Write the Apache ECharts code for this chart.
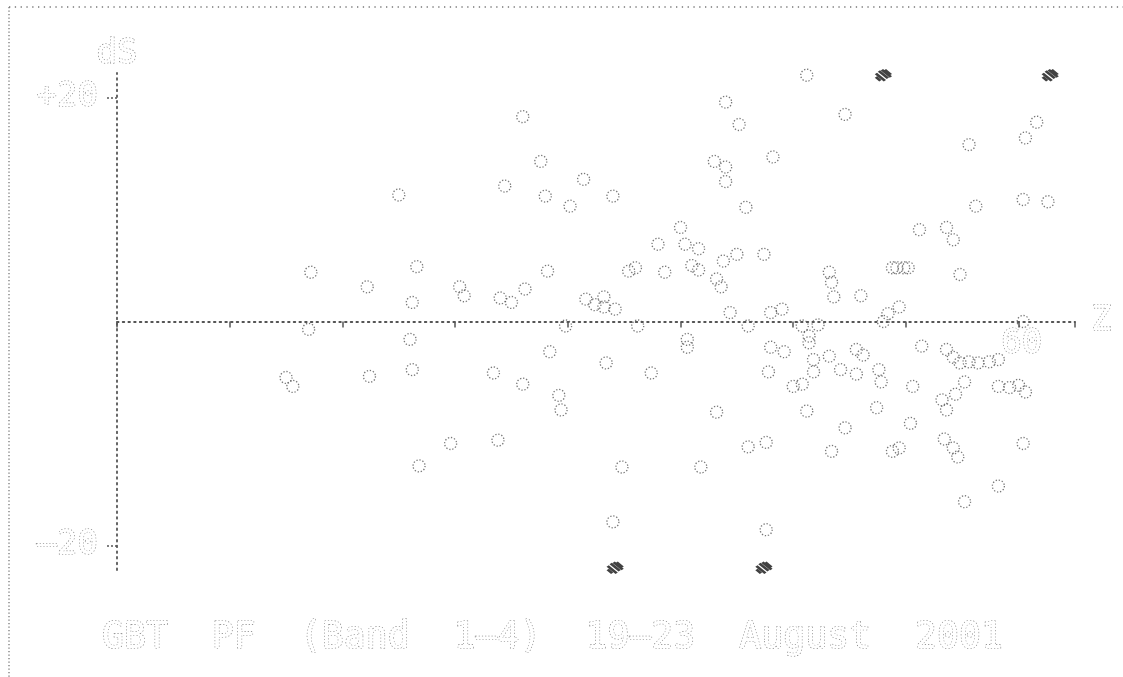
<html><head><meta charset="utf-8"></head><body style="margin:0;background:#fff">
<div id="c" style="width:1123px;height:677px"></div>
<script src="https://cdn.jsdelivr.net/npm/echarts@6/dist/echarts.min.js"></script>
<script>
// Open (normal) points: Z and dS
var zValues = [28.6,28.5,27.5,27.8,31.1,31.2,32.5,33.3,33.1,33.0,33.1,33.4,35.2,35.4,34.8,37.0,37.5,38.1,36.7,36.9,
  38.0,38.0,38.8,37.2,39.0,40.1,40.7,39.1,39.2,39.6,39.7,42.0,40.8,41.6,41.6,42.1,41.2,43.1,41.7,43.7,
  42.7,43.0,42.4,42.0,44.0,44.3,45.0,45.2,45.8,45.8,45.5,45.3,45.3,46.6,46.8,47.0,47.6,46.5,47.0,47.0,
  47.9,49.1,50.6,45.9,46.6,46.9,47.5,48.7,47.2,48.0,49.0,49.5,49.0,49.6,48.9,48.8,48.0,48.8,50.6,50.4,
  50.0,51.7,50.4,50.7,51.1,50.7,51.6,51.7,51.8,50.9,51.6,52.1,50.9,52.3,52.8,53.0,52.3,52.8,53.1,53.7,
  53.8,53.9,54.0,54.2,54.7,54.4,54.6,54.9,55.1,54.4,54.7,55.3,55.6,55.7,55.2,56.8,57.1,57.4,57.8,58.1,
  56.8,57.1,57.4,57.8,58.2,58.7,59.1,56.6,56.8,57.2,57.6,56.7,57.1,57.3,57.6,59.1,59.1,59.6,60.0,60.3,
  60.2,60.2,60.3,60.8,60.2,61.3,39.9];
var dsValues = [4.4,-0.7,-5.0,-5.8,3.1,-4.9,11.3,4.9,1.7,-1.6,-4.3,-12.9,3.1,2.3,-10.9,2.1,1.7,2.9,-4.6,-10.6,
  -5.6,18.3,14.3,12.1,11.2,10.3,12.7,4.5,-2.7,-6.6,-7.9,11.2,2.0,2.2,1.3,1.1,1.5,-0.4,-3.7,-4.6,
  4.5,4.8,-13.0,-17.9,6.9,4.4,8.4,6.9,6.5,4.6,5.0,-1.6,-2.3,3.8,3.1,19.6,17.6,14.3,12.5,13.8,
  10.2,14.7,22.0,-13.0,-8.1,5.4,6.0,6.0,0.8,-0.4,0.8,1.1,-2.3,-2.7,-4.5,-10.8,-11.2,-18.6,-8.0,-5.6,
  -5.8,-11.6,-0.4,-1.3,-0.3,-1.9,4.4,3.5,2.2,-3.4,-3.1,-4.3,-4.5,-9.5,-4.7,2.3,18.5,-2.5,-3.0,-7.7,
  -4.3,-5.4,0.0,0.7,1.3,4.8,4.8,4.8,4.8,-11.6,-11.3,-5.8,8.2,-2.2,-9.1,8.4,7.3,4.2,15.8,10.3,
  -2.5,-3.2,-3.7,-3.6,-3.7,-3.6,-3.4,-7.0,-7.9,-6.5,-5.4,-10.5,-11.3,-12.1,-16.1,-14.7,-5.8,-5.9,-5.7,-6.3,
  -10.9,0.0,16.4,17.8,10.9,10.7,-0.4];
// Off-scale points (drawn hatched at the plot edge)
var hatchZ = [54.0, 61.4, 42.1, 48.7];
var hatchDs = [22.0, 22.0, -22.0, -22.0];
// Axis labels
var yTickValues = [-20, 20];
var yTickLabels = {'-20': '—20', '20': '+20'};
var xLabelValue = 60;
var titleText = 'GBT  PF  (Band  1—4)  19—23  August  2001';

function zip(a, b) { return a.map(function (v, i) { return [v, b[i]]; }); }

var dotText = {
  fontFamily: 'DejaVu Sans Mono', fontSize: 34, color: '#ffffff',
  textBorderColor: '#7a7a7a', textBorderWidth: 1.2, textBorderType: [1.2, 2.0]
};
var axisLineStyle = { color: '#555', width: 1.8, type: [1.6, 4.1] };

var chart = echarts.init(document.getElementById('c'));
chart.setOption({
  animation: false,
  backgroundColor: '#fff',
  title: {
    text: titleText, left: 97, top: 615,
    textStyle: Object.assign({}, dotText, { fontSize: 36.5, fontWeight: 'normal' })
  },
  grid: { left: 117, right: 48, top: 73, bottom: 107 },
  xAxis: {
    type: 'value', min: 20, max: 62.5, interval: 5,
    axisLine: { onZero: true, lineStyle: axisLineStyle },
    axisTick: { show: true, length: 6, lineStyle: { color: '#555', width: 1.5 } },
    axisLabel: { show: false },
    splitLine: { show: false },
    name: 'Z', nameLocation: 'end', nameGap: 16,
    nameTextStyle: Object.assign({}, dotText, { verticalAlign: 'middle' })
  },
  yAxis: {
    type: 'value', min: -22.2, max: 22.2,
    axisLine: { show: true, onZero: false, lineStyle: axisLineStyle },
    axisTick: { show: true, length: 11, customValues: yTickValues, lineStyle: { color: '#555', width: 1.5, type: [2, 2] } },
    axisLabel: {
      show: true, margin: 19, customValues: yTickValues,
      formatter: function (v) { return yTickLabels[String(Math.round(v))] || ''; },
      fontFamily: dotText.fontFamily, fontSize: 34, color: dotText.color,
      textBorderColor: dotText.textBorderColor, textBorderWidth: dotText.textBorderWidth,
      textBorderType: dotText.textBorderType
    },
    splitLine: { show: false },
    name: 'dS', nameLocation: 'end', nameGap: 2,
    nameTextStyle: Object.assign({}, dotText, { align: 'center' })
  },
  series: [
    {
      type: 'scatter', data: zip(zValues, dsValues), symbol: 'circle', symbolSize: 12,
      itemStyle: { color: 'rgba(0,0,0,0)', borderColor: '#555', borderWidth: 1.3, borderType: [1.3, 1.8] },
      silent: true, clip: false
    },
    {
      type: 'scatter', data: zip(hatchZ, hatchDs),
      symbol: 'path://M0,3L6,9M2,1L8,7M4,0L10,6M0,6L3,9M6,0L10,4', symbolSize: [15, 11],
      itemStyle: { color: 'none', borderColor: '#111', borderWidth: 2.6 },
      silent: true, clip: false
    }
  ]
});
var p60 = chart.convertToPixel({ gridIndex: 0 }, [xLabelValue, 0]);
chart.setOption({
  graphic: [
    { type: 'line', shape: { x1: 9, y1: 7, x2: 1123, y2: 7 }, style: { stroke: '#777', lineWidth: 1.3, lineDash: [1.3, 4.5] }, silent: true },
    { type: 'line', shape: { x1: 9, y1: 7, x2: 9, y2: 677 }, style: { stroke: '#777', lineWidth: 1.3, lineDash: [1.3, 2.2] }, silent: true },
    { type: 'text', x: p60[0] + 3, y: p60[1] + 6, silent: true,
      style: { text: String(xLabelValue), align: 'center', verticalAlign: 'top',
        fill: dotText.color, stroke: dotText.textBorderColor, lineWidth: dotText.textBorderWidth,
        lineDash: dotText.textBorderType, font: '34px "DejaVu Sans Mono"' } }
  ]
});
</script></body></html>
